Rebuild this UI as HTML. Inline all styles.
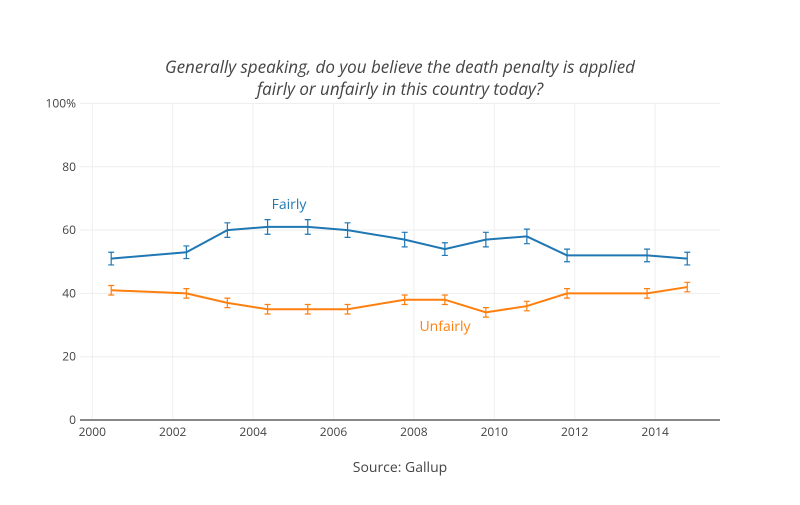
<!DOCTYPE html>
<html><head><meta charset="utf-8"><style>
body{margin:0;background:#fff;}
svg{font-family:"Open Sans","Liberation Sans",sans-serif;}
</style></head><body>
<svg id="chart" width="800" height="500">
<text x="400" y="73" text-anchor="middle" font-size="17" font-style="italic" fill="#444">Generally speaking, do you believe the death penalty is applied</text>
<text x="400" y="95" text-anchor="middle" font-size="17" font-style="italic" fill="#444">fairly or unfairly in this country today?</text>
<text x="400" y="472" text-anchor="middle" font-size="14" fill="#444">Source: Gallup</text>
<g id="grid"></g>
<g id="axes"></g>
<g id="series"></g>
</svg>
<script>
const years=[2000.47,2002.34,2003.36,2004.36,2005.36,2006.35,2007.77,2008.77,2009.79,2010.81,2011.81,2013.8,2014.8];
const fairly=[51,53,60,61,61,60,57,54,57,58,52,52,51];
const unfairly=[41,40,37,35,35,35,38,38,34,36,40,40,42];
const fairlyErr=[2,2,2.3,2.3,2.3,2.3,2.3,2,2.3,2.3,2,2,2];
const unfairlyErr=[1.5,1.5,1.5,1.5,1.5,1.5,1.5,1.5,1.5,1.5,1.5,1.5,1.5];
const xTicks=[2000,2002,2004,2006,2008,2010,2012,2014];
const yTicks=[0,20,40,60,80,100];
const yTickLabels=["0","20","40","60","80","100%"];
const NS="http://www.w3.org/2000/svg";
const X=v=>92.3+(v-2000)*40.2;
const Y=v=>420-v*3.165;
const L=80,R=720;
function mk(t,a,p){const e=document.createElementNS(NS,t);for(const k in a)e.setAttribute(k,a[k]);p.appendChild(e);return e;}
const grid=document.getElementById('grid'),axes=document.getElementById('axes'),ser=document.getElementById('series');
yTicks.forEach((v,i)=>{
 if(v>0){const g=mk('line',{x1:L,x2:R,y1:Y(v),y2:Y(v),stroke:'#eee','stroke-width':1},grid);
 
 }
 const t=mk('text',{x:76,y:Y(v)+4,'text-anchor':'end','font-size':12,fill:'#444'},axes);t.textContent=yTickLabels[i];
 
 
});
xTicks.forEach(v=>{
 const g=mk('line',{x1:X(v),x2:X(v),y1:Y(100),y2:Y(0),stroke:'#eee','stroke-width':1},grid);
 
 
 const t=mk('text',{x:X(v),y:436,'text-anchor':'middle','font-size':12,fill:'#444'},axes);t.textContent=v;
 
 
});
const ax=mk('line',{x1:L,x2:R,y1:Y(0),y2:Y(0),stroke:'#888','stroke-width':2},axes);


function draw(vals,errs,color,name){
 const p=mk('polyline',{points:vals.map((v,i)=>X(years[i])+','+Y(v)).join(' '),fill:'none',stroke:color,'stroke-width':2},ser);
 
 
 vals.forEach((v,i)=>{
  const x=X(years[i]),y1=Y(v+errs[i]),y2=Y(v-errs[i]);
  const e=mk('path',{d:`M${x},${y1}V${y2}M${x-3},${y1}H${x+3}M${x-3},${y2}H${x+3}`,stroke:color,'stroke-width':1.2,fill:'none'},ser);
  
  
 });
}
draw(fairly,fairlyErr,'#1f77b4','fairly');
draw(unfairly,unfairlyErr,'#ff7f0e','unfairly');
const a1=mk('text',{x:289,y:209,'text-anchor':'middle','font-size':14,fill:'#1f77b4'},ser);a1.textContent='Fairly';


const a2=mk('text',{x:445,y:331,'text-anchor':'middle','font-size':14,fill:'#ff7f0e'},ser);a2.textContent='Unfairly';


</script>
</body></html>
